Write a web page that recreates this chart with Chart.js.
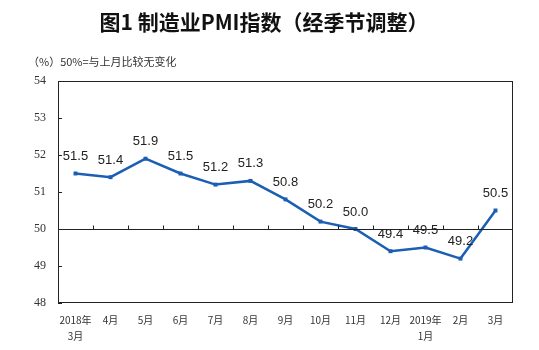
<!DOCTYPE html>
<html>
<head>
<meta charset="utf-8">
<script src="https://cdn.jsdelivr.net/npm/chart.js@4"></script>
<style>
  body { margin: 0; background: #fff; }
  #wrap { width: 539px; height: 350px; }
</style>
</head>
<body>
<div id="wrap"><canvas id="pmi"></canvas></div>
<script>
const months = [
  ["2018年", "3月"], "4月", "5月", "6月", "7月", "8月", "9月",
  "10月", "11月", "12月", ["2019年", "1月"], "2月", "3月",
];
const pmiValues = [51.5, 51.4, 51.9, 51.5, 51.2, 51.3, 50.8, 50.2, 50.0, 49.4, 49.5, 49.2, 50.5];
const yTicks = [48, 49, 50, 51, 52, 53, 54];
const titleText = "图1 制造业PMI指数（经季节调整）";
const noteText = "（%）50%=与上月比较无变化";

const lineColor = "#1a5fb4";

// frame, 50 line, inward ticks, texts and value labels
const decor = {
  id: "decor",
  afterDraw(chart) {
    const { ctx, chartArea: a, scales } = chart;
    const y = scales.y;
    ctx.save();

    ctx.fillStyle = "#111";
    ctx.font = "bold 21px 'Noto Sans CJK SC'";
    ctx.textAlign = "center";
    ctx.textBaseline = "middle";
    ctx.fillText(titleText, 264, 22);

    ctx.font = "11px 'Noto Sans CJK SC'";
    ctx.textAlign = "left";
    ctx.fillStyle = "#333";
    ctx.fillText(noteText, 28, 62);

    ctx.strokeStyle = "#222";
    ctx.lineWidth = 1;
    ctx.strokeRect(a.left + 0.5, a.top + 0.5, a.right - a.left - 1, a.bottom - a.top - 1);

    const y50 = Math.round(y.getPixelForValue(50)) + 0.5;
    ctx.beginPath();
    ctx.moveTo(a.left, y50);
    ctx.lineTo(a.right, y50);
    for (const v of yTicks) {
      const py = Math.round(y.getPixelForValue(v)) + 0.5;
      ctx.moveTo(a.left, py);
      ctx.lineTo(a.left + 4, py);
    }
    const step = (a.right - a.left) / months.length;
    for (let i = 1; i < months.length; i++) {
      const px = Math.round(a.left + step * i) + 0.5;
      ctx.moveTo(px, y50);
      ctx.lineTo(px, y50 - 4);
    }
    ctx.stroke();

    ctx.font = "13px 'Liberation Sans'";
    ctx.fillStyle = "#222";
    ctx.textAlign = "center";
    const pts = chart.getDatasetMeta(0).data;
    pts.forEach((p, i) => {
      ctx.fillText(pmiValues[i].toFixed(1), p.x, p.y - 17);
    });
    ctx.restore();
  },
};

new Chart(document.getElementById("pmi"), {
  type: "line",
  data: {
    labels: months,
    datasets: [
      {
        data: pmiValues,
        borderColor: lineColor,
        backgroundColor: lineColor,
        borderWidth: 2.5,
        pointStyle: "rect",
        pointRadius: 2.8,
        pointBorderWidth: 0,
        tension: 0,
      },
    ],
  },
  options: {
    responsive: true,
    maintainAspectRatio: false,
    animation: false,
    layout: {
      padding: { left: 0, right: 26, top: 81, bottom: 0 },
    },
    plugins: {
      legend: { display: false },
      tooltip: { enabled: false },
    },
    scales: {
      x: {
        offset: true,
        grid: { display: false, drawTicks: false },
        border: { display: false },
        ticks: {
          color: "#333",
          font: { family: "'Noto Sans CJK SC'", size: 10, lineHeight: 1.6 },
          padding: 9,
          maxRotation: 0,
          autoSkip: false,
        },
        afterFit: (s) => { s.height = 47; },
      },
      y: {
        min: 48,
        max: 54,
        grid: { display: false, drawTicks: false },
        border: { display: false },
        ticks: {
          stepSize: 1,
          color: "#333",
          font: { family: "'Liberation Serif'", size: 12 },
          padding: 12,
        },
        afterFit: (s) => { s.width = 58; },
      },
    },
  },
  plugins: [decor],
});
</script>
</body>
</html>
